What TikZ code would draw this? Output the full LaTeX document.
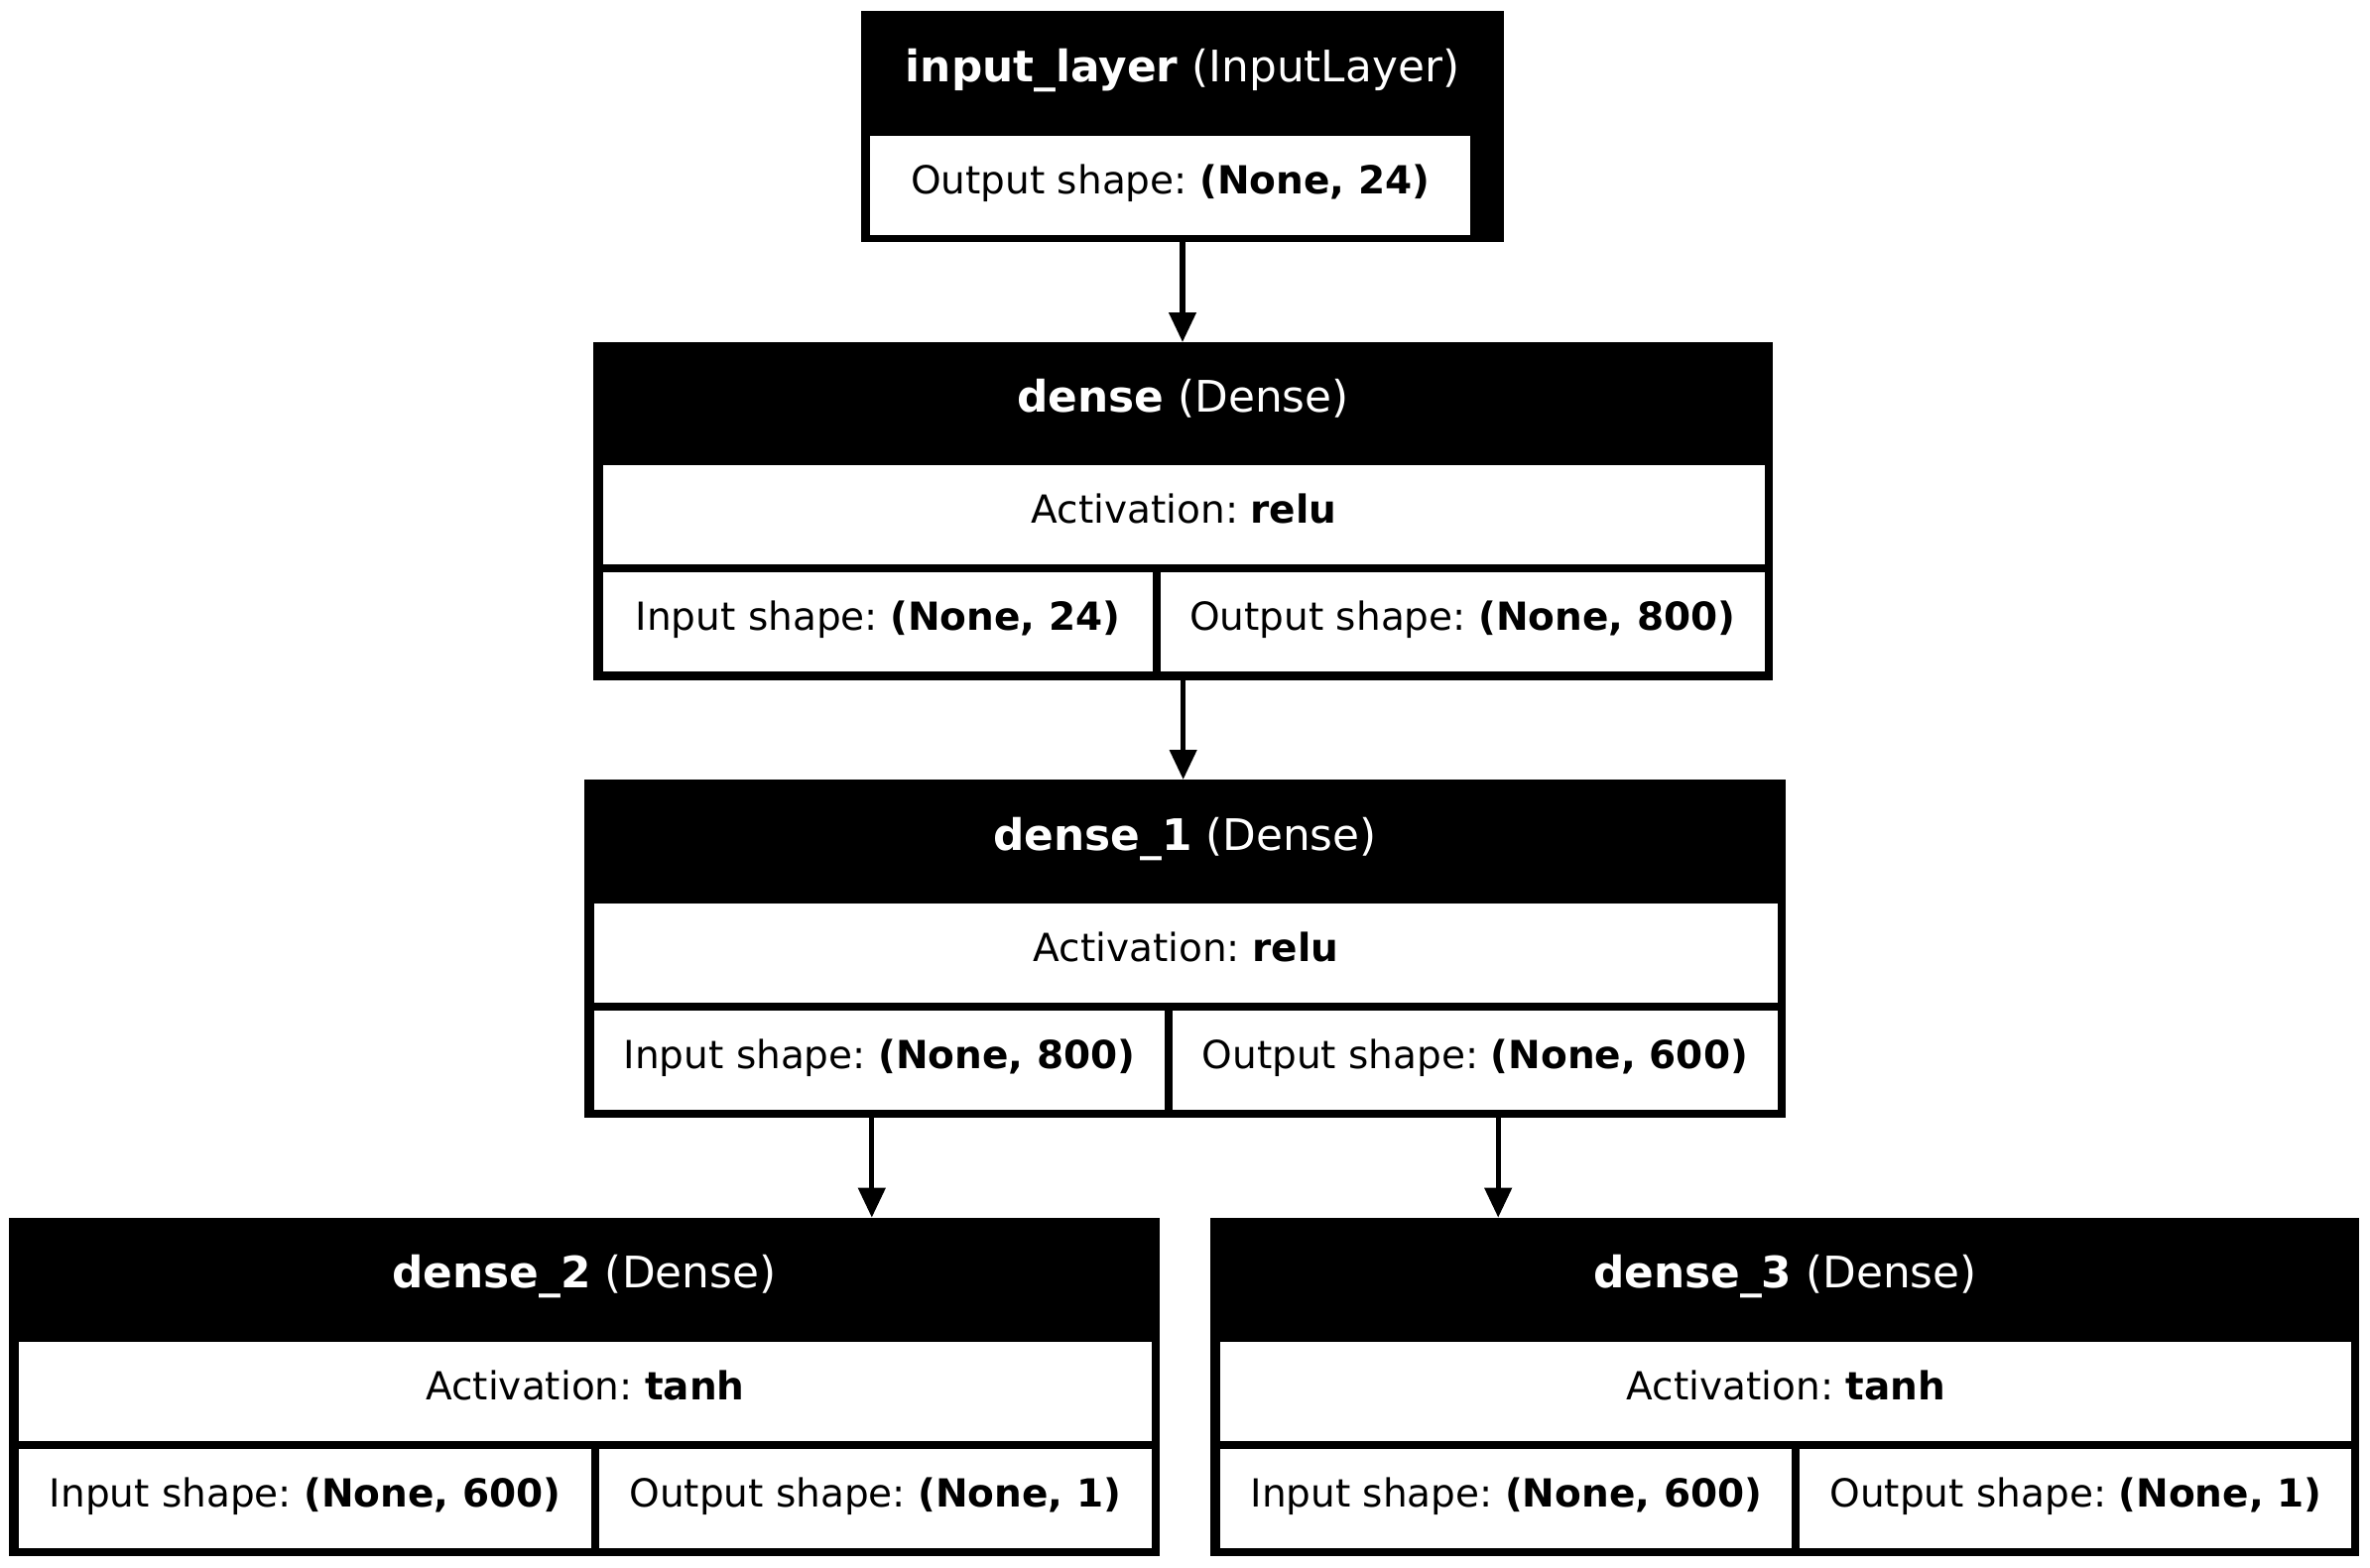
\documentclass[tikz,border=0pt]{standalone}
\usepackage{fontspec}
\setmainfont{DejaVu Sans}
\usetikzlibrary{arrows.meta}
\newcommand\hdsize{\fontsize{43.8}{52}\selectfont}
\newcommand\bdsize{\fontsize{39}{46}\selectfont}
\frenchspacing

\begin{document}
\begin{tikzpicture}[x=1pt,y=-1pt,
  frame/.style={fill=black, draw=none, inner sep=0pt, outer sep=0pt, anchor=north west},
  head/.style={inner sep=0pt, outer sep=0pt, anchor=north west, text=white,
    font=\hdsize, text height=32pt, text depth=15pt},
  cell/.style={fill=white, inner sep=0pt, outer sep=0pt, anchor=north west,
    font=\bdsize, text height=28pt, text depth=11pt},
  link/.style={line width=5.3pt, -{Triangle[length=30pt,width=26.7pt]}}]

\useasboundingbox (0,0) rectangle (2389,1581);

% input_layer
\node[frame, minimum width=648pt, minimum height=233.3pt] (il) at (868,11) {};
\node[head, minimum width=648pt, minimum height=126.3pt] (ilh) at (868,11)
  {\textbf{input\_layer} (InputLayer)};
\node[cell, minimum width=604.7pt, minimum height=100pt] (ilo) at (877.3,137.3)
  {Output shape: \textbf{(None, 24)}};

% dense
\node[frame, minimum width=1188.7pt, minimum height=341pt] (d0) at (598.3,345) {};
\node[head, minimum width=1188.7pt, minimum height=124.3pt] (d0h) at (598.3,345)
  {\textbf{dense} (Dense)};
\node[cell, minimum width=1170.4pt, minimum height=100pt] (d0a) at (608.3,469.3)
  {Activation: \textbf{relu}};
\node[cell, minimum width=553.4pt, minimum height=100pt] (d0i) at (608.3,577.3)
  {Input shape: \textbf{(None, 24)}};
\node[cell, minimum width=609pt, minimum height=100pt] (d0o) at (1169.7,577.3)
  {Output shape: \textbf{(None, 800)}};

% dense_1
\node[frame, minimum width=1211pt, minimum height=341.3pt] (d1) at (589,786) {};
\node[head, minimum width=1211pt, minimum height=125pt] (d1h) at (589,786)
  {\textbf{dense\_1} (Dense)};
\node[cell, minimum width=1192.7pt, minimum height=100pt] (d1a) at (599,911)
  {Activation: \textbf{relu}};
\node[cell, minimum width=575pt, minimum height=100pt] (d1i) at (599,1019.3)
  {Input shape: \textbf{(None, 800)}};
\node[cell, minimum width=609.7pt, minimum height=100pt] (d1o) at (1182,1019.3)
  {Output shape: \textbf{(None, 600)}};

% dense_2
\node[frame, minimum width=1159.3pt, minimum height=341.6pt] (d2) at (9.3,1227.7) {};
\node[head, minimum width=1159.3pt, minimum height=125pt] (d2h) at (9.3,1227.7)
  {\textbf{dense\_2} (Dense)};
\node[cell, minimum width=1141.3pt, minimum height=100pt] (d2a) at (19.3,1352.7)
  {Activation: \textbf{tanh}};
\node[cell, minimum width=576.7pt, minimum height=100pt] (d2i) at (19.3,1461)
  {Input shape: \textbf{(None, 600)}};
\node[cell, minimum width=556.6pt, minimum height=100pt] (d2o) at (604,1461)
  {Output shape: \textbf{(None, 1)}};

% dense_3
\node[frame, minimum width=1157.9pt, minimum height=341.6pt] (d3) at (1220.4,1227.7) {};
\node[head, minimum width=1157.9pt, minimum height=125pt] (d3h) at (1220.4,1227.7)
  {\textbf{dense\_3} (Dense)};
\node[cell, minimum width=1140pt, minimum height=100pt] (d3a) at (1230.4,1352.7)
  {Activation: \textbf{tanh}};
\node[cell, minimum width=576pt, minimum height=100pt] (d3i) at (1230.4,1461)
  {Input shape: \textbf{(None, 600)}};
\node[cell, minimum width=556pt, minimum height=100pt] (d3o) at (1814.4,1461)
  {Output shape: \textbf{(None, 1)}};

% edges: each runs down the middle of the horizontal overlap of its two boxes
\coordinate (r2) at (878.8,0);
\coordinate (r3) at (1510.2,0);
\draw[link] (il.south) -- (il.south |- d0.north);
\draw[link] (d0.south) -- (d0.south |- d1.north);
\draw[link] (d1.south -| r2) -- (d2.north -| r2);
\draw[link] (d1.south -| r3) -- (d3.north -| r3);
\end{tikzpicture}
\end{document}
